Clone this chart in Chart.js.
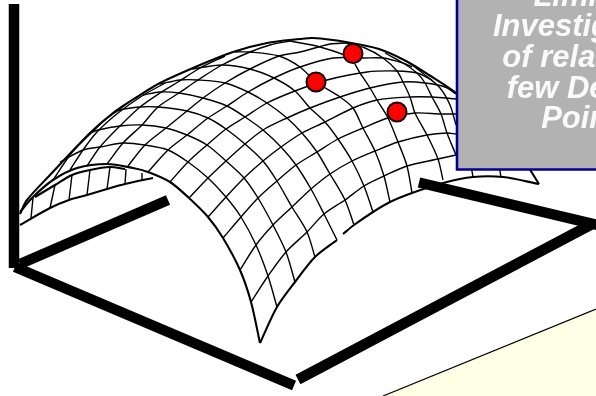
<!DOCTYPE html>
<html>
<head>
<meta charset="utf-8">
<style>html,body{margin:0;padding:0;background:#fff}canvas{display:block}</style>
<script src="https://cdn.jsdelivr.net/npm/chart.js@4"></script>
</head>
<body>
<canvas id="c" width="596" height="396"></canvas>
<script>
const silhouette=[[20,214],[27,200],[50,175],[90,133],[113,113],[137,97],[160,83],[200,65],[233,52],[267,43],[300,39],[313,38],[346,42],[379,49],[406,61],[429,75],[456,93],[490,125],[520,155],[539,184]];
const frontLeft=[[20,212],[33,197],[53,180],[77,168],[107,164],[133,168],[148,172],[170,182],[189,198],[208,217],[223,238],[240,270],[251,302],[260,343]];
const frontRightA=[[260,343],[277,307],[295,282],[315,257],[337,240]];
const frontRightB=[[343,234],[354,225],[373,212],[390,202],[412,193],[443,183],[473,177],[503,177],[539,184]];
const cross1=[[251,302],[268,276],[286,252],[307,232],[324,214],[345,200],[364,186],[384,176],[407,166],[438,159],[456,155]];
const cross2=[[240,270],[256,245],[273,225],[292,207],[311,189],[330,174],[352,161],[375,151],[398,142],[427,135],[447,133],[456,134]];
const cross3=[[223,238],[241,217],[258,198],[277,181],[296,165],[317,152],[338,139],[363,128],[388,118],[415,113],[441,114],[456,114]];
const cross4=[[208,217],[226,197],[244,178],[263,161],[281,147],[302,133],[325,122],[353,108],[377,100],[410,97],[432,97],[456,99]];
const cross5=[[189,198],[208,178],[226,161],[245,144],[263,130],[287,118],[310,108],[340,97],[370,88],[403,82],[425,83],[445,87],[456,94]];
const cross6=[[170,182],[188,162],[207,145],[226,129],[245,117],[267,103],[295,91],[327,80],[367,72],[397,71],[417,73],[432,80]];
const cross7=[[148,172],[168,150],[187,135],[208,118],[227,106],[248,92],[274,78],[300,67],[333,58],[363,58],[383,58],[403,63],[412,67]];
const cross8=[[128,166],[145,145],[166,128],[187,111],[203,98],[225,83],[250,69],[279,56],[300,52],[330,44],[345,43]];
const cross9=[[107,164],[123,143],[142,125],[158,107],[179,93],[198,80],[222,65],[250,52],[270,45],[290,41]];
const cross10=[[87,166],[100,147],[120,126],[140,107],[160,93],[178,82],[200,68],[225,56]];
const cross11=[[70,170],[83,150],[97,132],[118,113],[142,96],[165,83]];
const cross12=[[53,180],[70,155],[85,139],[105,120],[125,105]];
const arc1=[[60,162],[83,150],[100,147],[123,143],[145,145],[168,150],[188,162],[208,178],[226,197],[241,217],[256,245],[268,276],[277,307]];
const arc2=[[90,133],[98,130],[120,126],[142,125],[166,128],[187,135],[207,145],[226,161],[244,178],[258,198],[273,225],[286,252],[295,282]];
const arc3=[[112,114],[120,110],[140,107],[158,107],[187,111],[208,118],[226,129],[245,144],[263,161],[277,181],[292,207],[307,232],[315,257]];
const arc4=[[143,95],[160,92],[179,93],[203,98],[227,106],[245,117],[263,130],[281,147],[296,165],[311,189],[324,214],[337,240]];
const arc5=[[160,84],[180,80],[198,80],[225,83],[248,92],[267,103],[287,118],[302,133],[317,152],[330,174],[345,200],[354,225]];
const arc6=[[192,69],[222,65],[250,69],[274,78],[295,91],[310,108],[325,122],[338,139],[352,161],[364,186],[373,212]];
const arc7=[[235,52],[250,52],[279,56],[300,67],[316,82],[340,97],[353,108],[363,128],[375,151],[384,176],[390,202]];
const arc8=[[290,41],[320,47],[350,58],[360,73],[370,88],[377,100],[388,118],[398,142],[407,166],[412,193]];
const arc9=[[345,43],[365,48],[383,58],[397,71],[403,82],[410,97],[415,113],[427,135],[438,159],[443,180]];
const arc10=[[385,53],[403,63],[417,73],[425,83],[432,97],[441,114],[447,133],[456,155]];
const arc11=[[408,62],[425,75],[440,88],[450,105],[456,125]];
const stub1=[[470,160],[473,177]];
const stub2=[[498,160],[501,177]];
const rearArc=[[35,197],[55,185],[72,175],[90,170],[110,167],[125,169]];
const rearBase=[[20,225],[50,208],[69,200],[87,195],[107,189],[125,184],[153,178]];
const rear1=[[31,218],[33,198]];
const rear2=[[50,208],[55,185]];
const rear3=[[69,200],[72,175]];
const rear4=[[87,195],[90,170]];
const rear5=[[107,189],[110,167]];
const rear6=[[125,184],[126,169]];
const rear7=[[142,180],[142,173]];
const axisUp=[[14,4],[14,268]];
const axisBack=[[20,264],[168,200]];
const axisFront=[[15,267],[294,385.5]];
const axisRight=[[298,379.5],[594,223]];
const axisFar=[[419,182.5],[598,225]];
const designPoints=[[316,82],[353,53.5],[397,112]];
const noteEdge=[[383,396],[596,309]];
const boxEdge=[[457,0],[457,169.5],[596,169.5]];
const boxFloor=[[457,169.5],[596,169.5]];
const boxLines=["Limited","Investigation","of relatively","few Design","Points"];

const pts=a=>a.map(p=>({x:p[0],y:p[1]}));
const thin=[cross1,cross2,cross3,cross4,cross5,cross6,cross7,cross8,cross9,cross10,cross11,cross12,arc1,arc2,arc3,arc4,arc5,arc6,arc7,arc8,arc9,arc10,arc11,stub1,stub2,rear1,rear2,rear3,rear4,rear5,rear6,rear7];
const medium=[silhouette,frontLeft,frontRightA,frontRightB,rearArc,rearBase];
const heavy=[axisUp,axisBack,axisFront,axisRight,axisFar];
const line=(a,w,o,tension)=>({type:'line',data:pts(a),borderColor:'#000',borderWidth:w,pointRadius:0,tension:tension,fill:false,order:o,borderCapStyle:'butt'});
const datasets=[];
thin.forEach(a=>datasets.push(line(a,1.4,60,0.3)));
medium.forEach(a=>datasets.push(line(a,2.1,50,0.3)));
heavy.forEach(a=>datasets.push(line(a,10.5,40,0)));
datasets.push({type:'scatter',data:pts(designPoints),pointRadius:9.5,pointBorderWidth:2,pointBackgroundColor:'#ff0000',pointBorderColor:'#1a0000',order:30});
datasets.push({type:'line',data:pts(boxFloor),borderWidth:0,pointRadius:0,backgroundColor:'#b2b2b2',fill:'end',order:20});
datasets.push({type:'line',data:pts(boxEdge),borderColor:'#000099',borderWidth:2.6,pointRadius:0,fill:false,order:19,borderJoinStyle:'miter'});
datasets.push({type:'line',data:pts(noteEdge),borderColor:'#000',borderWidth:1.2,backgroundColor:'#ffffe5',pointRadius:0,fill:'start',order:18});

const boxText={id:'boxText',afterDraw(chart){
  const c=chart.ctx,x=chart.scales.x,y=chart.scales.y;
  c.save();
  c.font='italic bold 31px "Liberation Sans", Arial, sans-serif';
  c.fillStyle='#fafafa';c.textAlign='center';c.textBaseline='alphabetic';
  boxLines.forEach((t,i)=>c.fillText(t,x.getPixelForValue(588.5),y.getPixelForValue(5.5+i*30.7)));
  c.restore();
}};
new Chart(document.getElementById('c'),{
  data:{datasets},
  plugins:[boxText],
  options:{
    responsive:false,animation:false,devicePixelRatio:1,
    layout:{padding:0,autoPadding:false},
    scales:{
      x:{type:'linear',min:0,max:596,display:false},
      y:{type:'linear',min:0,max:396,reverse:true,display:false}
    },
    plugins:{legend:{display:false},tooltip:{enabled:false},title:{display:false},filler:{drawTime:'beforeDatasetDraw'}}
  }
});
</script>
</body>
</html>
